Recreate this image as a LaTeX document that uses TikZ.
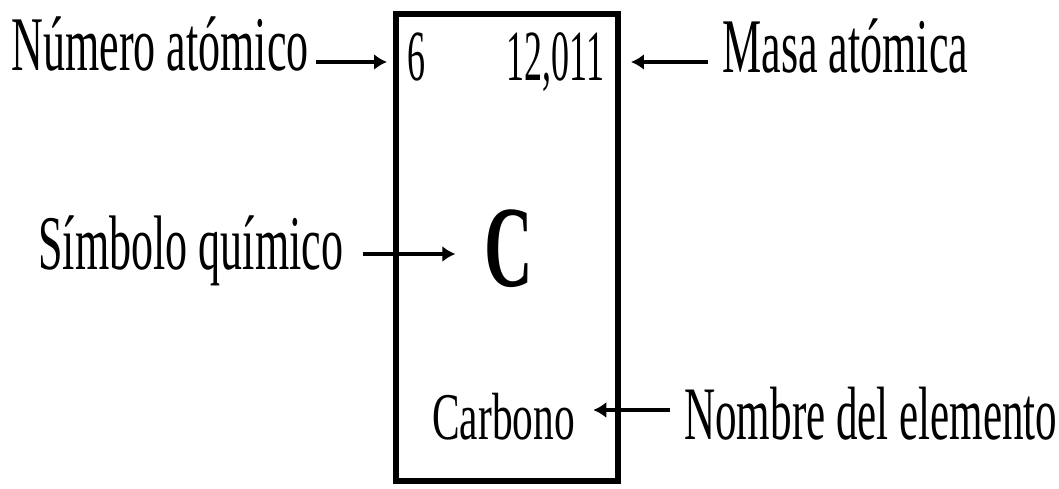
\documentclass[tikz,border=0pt]{standalone}
\usepackage{fontspec}
\setmainfont{Liberation Serif}
\newfontfamily\labelfont{Liberation Serif}[FakeStretch=0.57]
\newfontfamily\numberfont{Liberation Serif}[FakeStretch=0.5]
\newfontfamily\namefont{Liberation Serif}[FakeStretch=0.62]
\newfontfamily\symbolfont{Liberation Serif}[FakeStretch=0.58]
\usetikzlibrary{arrows.meta,positioning}

\begin{document}
\begin{tikzpicture}[x=0.02cm, y=-0.02cm,
    lbl/.style={inner sep=0pt, anchor=base west, font=\labelfont\fontsize{44}{44}\selectfont},
    num/.style={inner sep=0pt, font=\numberfont\fontsize{41}{41}\selectfont},
    pointer/.style={-{Latex[length=0.26cm,width=0.32cm]}, line width=2.2pt}]

    % canvas
    \useasboundingbox (0,0) rectangle (1059,489);

    % the cell
    \node[draw, line width=3.2pt, minimum width=4.44cm, minimum height=9.34cm] (cell) at (507,247.5) {};

    % contents of the cell
    \node[num, anchor=base west] (six) at (407,81) {6};
    \node[num, anchor=base east] (mass) at (605,81) {12,011};
    \node[inner sep=0pt, anchor=base, font=\symbolfont\bfseries\fontsize{66}{66}\selectfont] (sym) at (509,287) {C};
    \node[inner sep=0pt, anchor=base west, font=\namefont\fontsize{38}{38}\selectfont] (name) at (432,440) {Carbono};

    % labels outside
    \node[lbl] (numlbl) at (11,71) {Número atómico};
    \node[lbl] (masslbl) at (722,73) {Masa atómica};
    \node[lbl] (symlbl) at (38,270) {Símbolo químico};
    \node[lbl, font=\labelfont\fontsize{43}{43}\selectfont] (namelbl) at (684,440) {Nombre del elemento};

    % arrows
    \coordinate (a1) at ([shift={(7,-9)}]numlbl.base east);
    \draw[pointer, shorten >=0.4cm] (a1) -- (a1 -| six.west);
    \coordinate (a2) at ([shift={(-14,-11)}]masslbl.base west);
    \draw[pointer, shorten >=0.52cm] (a2) -- (a2 -| mass.east);
    \coordinate (a3) at ([shift={(20,-16)}]symlbl.base east);
    \draw[pointer, shorten >=0.58cm] (a3) -- (a3 -| sym.west);
    \coordinate (a4) at ([shift={(-14,-30)}]namelbl.base west);
    \draw[pointer, shorten >=0.36cm] (a4) -- (a4 -| name.east);
\end{tikzpicture}
\end{document}
